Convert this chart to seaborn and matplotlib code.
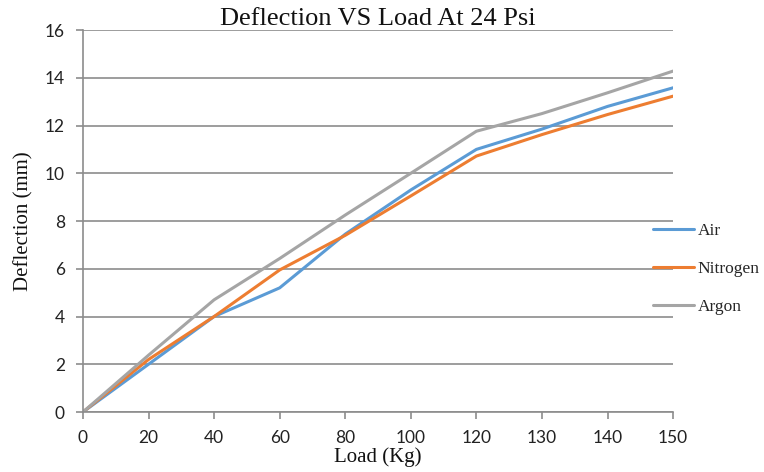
import matplotlib
matplotlib.use("Agg")
import matplotlib.pyplot as plt
import seaborn as sns
import pandas as pd

loads = ["0", "20", "40", "60", "80", "100", "120", "130", "140", "150"]
air = [0, 2.0, 4.0, 5.2, 7.45, 9.3, 11.0, 11.85, 12.8, 13.58]
nitrogen = [0, 2.2, 4.0, 5.95, 7.4, 9.05, 10.72, 11.62, 12.46, 13.23]
argon = [0, 2.38, 4.7, 6.43, 8.25, 10.0, 11.76, 12.5, 13.37, 14.28]
series_names = ["Air", "Nitrogen", "Argon"]
colors = ["#5B9BD5", "#ED7D31", "#A5A5A5"]

rows = []
for name, vals in zip(series_names, [air, nitrogen, argon]):
    for i, (l, v) in enumerate(zip(loads, vals)):
        rows.append({"pos": i, "Load": l, "Deflection": v, "Series": name})
df = pd.DataFrame(rows)

sns.set_theme(style="white")
fig = plt.figure(figsize=(7.64, 4.72), dpi=100)
ax = fig.add_axes([0.1086, 0.1271, 0.881 - 0.1086, 0.9364 - 0.1271])

sns.lineplot(data=df, x="pos", y="Deflection", hue="Series", palette=colors,
             hue_order=series_names, linewidth=2.2, ax=ax, legend=False)

ax.set_xlim(0, len(loads) - 1)
ax.set_ylim(0, 16)
ax.set_yticks(range(0, 17, 2))
ax.set_xticks(range(len(loads)))
ax.set_xticklabels(loads)
ax.grid(axis="y", color="#8C8C8C", linewidth=1.2)
ax.set_axisbelow(True)
for s in ["top", "right"]:
    ax.spines[s].set_visible(False)
for s in ["left", "bottom"]:
    ax.spines[s].set_color("#8C8C8C")
    ax.spines[s].set_linewidth(1.2)
ax.tick_params(axis="both", which="both", direction="out", length=5, width=1.2,
               color="#8C8C8C", labelsize=12.5, labelcolor="#222222", pad=8,
               bottom=True, left=True)
for lab in ax.get_xticklabels() + ax.get_yticklabels():
    lab.set_fontfamily("Lato")

ax.set_title("Deflection VS Load At 24 Psi", fontfamily="Liberation Serif",
             fontsize=19, color="#111111", pad=1)
ax.set_xlabel("Load (Kg)", fontfamily="Liberation Serif", fontsize=15,
              color="#111111", labelpad=1)
ax.set_ylabel("Deflection (mm)", fontfamily="Liberation Serif", fontsize=15,
              color="#111111", labelpad=8)

handles = [plt.Line2D([], [], color=c, linewidth=2.2) for c in colors]
leg = fig.legend(handles, series_names, loc="center left",
                 bbox_to_anchor=(0.845, 0.43), frameon=False,
                 handlelength=2.4, handletextpad=0.2, labelspacing=1.27,
                 borderaxespad=0,
                 prop={"family": "Liberation Serif", "size": 12.5})

fig.savefig("out.png", dpi=100)
